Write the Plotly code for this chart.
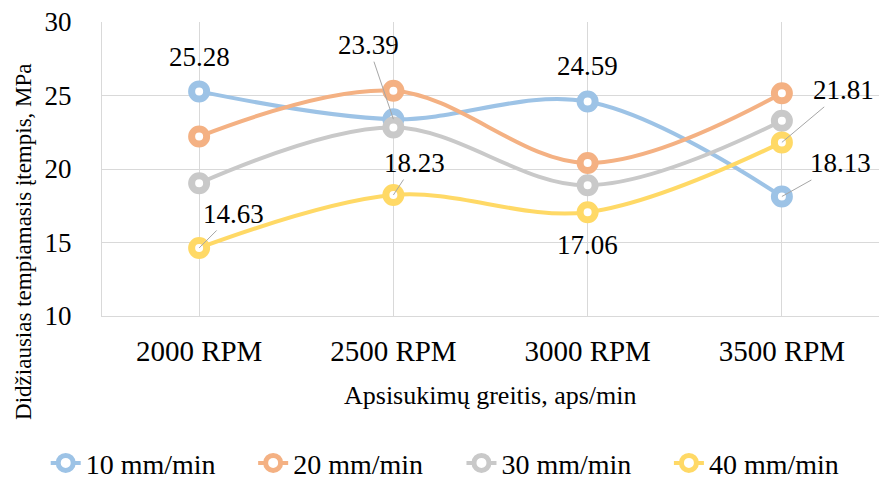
import plotly.graph_objects as go

# Spindle speed categories and maximum tensile stress (MPa) per feed rate
categories = ["2000 RPM", "2500 RPM", "3000 RPM", "3500 RPM"]
feed_names = ["10 mm/min", "20 mm/min", "30 mm/min", "40 mm/min"]
stress_10 = [25.28, 23.39, 24.59, 18.13]
stress_20 = [22.21, 25.32, 20.41, 25.15]
stress_30 = [19.03, 22.82, 18.89, 23.28]
stress_40 = [14.63, 18.23, 17.06, 21.81]
y_ticks = [10, 15, 20, 25, 30]

series = [stress_10, stress_20, stress_30, stress_40]
colors = ["#9dc3e6", "#f4b183", "#c9c9c9", "#ffd966"]
legend_ids = ["legend", "legend2", "legend3", "legend4"]
legend_x = [0.052, 0.288, 0.525, 0.761]   # left edge of each legend entry (container fraction)

FONT = "Liberation Serif"
GRID = "#d9d9d9"

fig = go.Figure()
for name, vals, col, lg in zip(feed_names, series, colors, legend_ids):
    fig.add_trace(go.Scatter(
        x=categories, y=vals, name=name, legend=lg,
        mode="lines+markers",
        line=dict(color=col, width=4, shape="spline", smoothing=1.0),
        marker=dict(symbol="circle", size=15, color="white",
                    line=dict(color=col, width=7)),
    ))

# Value labels: (series, category index, pixel offset x, pixel offset y, leader line)
label_specs = [
    (stress_10, 0, 0, -34, False),
    (stress_10, 1, -25, -74, True),
    (stress_10, 2, 0, -36, False),
    (stress_10, 3, 59, -33, True),
    (stress_40, 0, 34, -34, True),
    (stress_40, 1, 21, -32, True),
    (stress_40, 2, 0, 33, False),
    (stress_40, 3, 62, -52, True),
]
annotations = []
for vals, i, dx, dy, leader in label_specs:
    txt = f"{vals[i]:.2f}"
    if leader:
        annotations.append(dict(
            x=categories[i], y=vals[i], xref="x", yref="y", text=txt,
            showarrow=True, arrowhead=0, arrowwidth=1, arrowcolor="#a6a6a6",
            ax=dx, ay=dy, standoff=0,
            font=dict(family=FONT, size=27, color="#000000"),
        ))
    else:
        annotations.append(dict(
            x=categories[i], y=vals[i], xref="x", yref="y", text=txt,
            showarrow=False, yshift=-dy, xshift=dx,
            font=dict(family=FONT, size=27, color="#000000"),
        ))

# Axis titles
annotations.append(dict(
    text="Apsisukimų greitis, aps/min", xref="paper", yref="paper",
    x=0.5, y=-0.269, xanchor="center", yanchor="middle", showarrow=False,
    font=dict(family=FONT, size=26, color="#000000"),
))
annotations.append(dict(
    text="Didžiausias tempiamasis įtempis, MPa", xref="paper", yref="paper",
    x=-0.1004, y=0.252, xanchor="center", yanchor="middle", showarrow=False,
    textangle=-90,
    font=dict(family=FONT, size=23, color="#000000"),
))

legend_layout = {}
for lg, lx in zip(legend_ids, legend_x):
    legend_layout[lg] = dict(
        orientation="h", x=lx, xanchor="left", xref="container",
        y=0.033, yanchor="middle", yref="container",
        font=dict(family=FONT, size=28, color="#000000"),
        itemwidth=30, bgcolor="rgba(0,0,0,0)",
    )

fig.update_layout(
    width=879, height=479,
    margin=dict(l=102, r=0, t=22, b=163, autoexpand=False),
    paper_bgcolor="white", plot_bgcolor="white",
    font=dict(family=FONT, color="#000000"),
    showlegend=True,
    annotations=annotations,
    xaxis=dict(
        type="category", range=[-0.5, 3.5],
        showgrid=True, gridcolor=GRID, gridwidth=1,
        showline=True, linecolor=GRID, linewidth=1,
        ticks="", ticklabelstandoff=9, tickangle=0, automargin=False,
        tickfont=dict(family=FONT, size=29, color="#000000"),
        zeroline=False, fixedrange=True,
    ),
    yaxis=dict(
        range=[10, 30], tickvals=y_ticks,
        showgrid=True, gridcolor=GRID, gridwidth=1,
        showline=True, linecolor=GRID, linewidth=1,
        ticks="", ticklabelstandoff=24, automargin=False,
        tickfont=dict(family=FONT, size=27, color="#000000"),
        zeroline=False, fixedrange=True,
    ),
    **legend_layout,
)

fig.write_html("out.html")
